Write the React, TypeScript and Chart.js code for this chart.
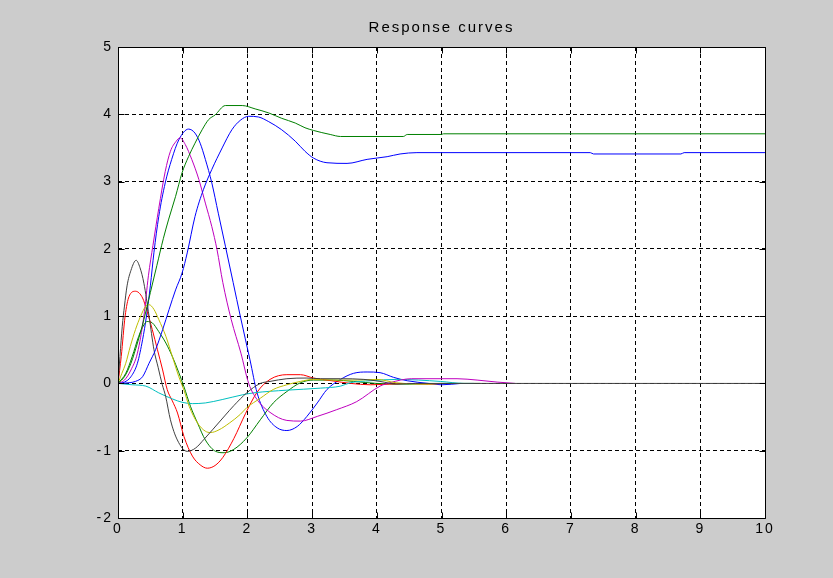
import { useEffect, useRef } from "react";
import { Chart, registerables } from "chart.js";

Chart.register(...registerables);

const titleText = "Response curves";
const xRange = [0, 10];
const yRange = [-2, 5];

// fast blue (peak ~3.78)
const blueFastT = [0, 0.1, 0.2, 0.3, 0.38, 0.44, 0.5, 0.556, 0.63, 0.73, 0.83, 0.94, 1.09, 1.19, 1.27, 1.35, 1.45, 1.55, 1.66, 1.78, 1.89, 2.04, 2.15, 2.3, 2.46, 2.61, 2.77, 2.92, 3.08, 3.23, 3.44, 3.64, 3.85, 4.05, 4.26, 4.47, 4.8, 5.0, 5.3];
const blueFastY = [0, 0.02, 0.1, 0.3, 0.65, 1.0, 1.45, 1.95, 2.48, 2.98, 3.33, 3.62, 3.78, 3.72, 3.57, 3.33, 2.98, 2.53, 2.04, 1.5, 1.0, 0.35, -0.14, -0.49, -0.66, -0.7, -0.64, -0.49, -0.29, -0.09, 0.06, 0.15, 0.17, 0.16, 0.09, 0.04, 0.0, -0.02, 0];

// slow blue (settles ~3.42)
const blueSlowT = [0, 0.17, 0.27, 0.38, 0.48, 0.58, 0.69, 0.79, 0.89, 0.99, 1.07, 1.19, 1.32, 1.45, 1.61, 1.76, 1.89, 2.02, 2.17, 2.33, 2.53, 2.74, 2.89, 3.02, 3.23, 3.54, 3.85, 4.16, 4.36, 4.62, 7.3, 7.35, 8.7, 8.75, 10];
const blueSlowY = [0, 0.01, 0.03, 0.1, 0.3, 0.5, 0.8, 1.1, 1.39, 1.64, 1.94, 2.48, 2.88, 3.18, 3.5, 3.77, 3.91, 3.97, 3.96, 3.89, 3.77, 3.6, 3.45, 3.35, 3.28, 3.27, 3.33, 3.37, 3.41, 3.43, 3.43, 3.41, 3.41, 3.43, 3.43];

// upper green (settles ~3.7)
const greenHighT = [0, 0.1, 0.2, 0.3, 0.4, 0.5, 0.6, 0.7, 0.78, 0.89, 0.99, 1.09, 1.19, 1.3, 1.4, 1.5, 1.66, 1.92, 2.12, 2.33, 2.53, 2.74, 2.89, 3.02, 3.28, 3.44, 4.41, 4.47, 5.0, 5.03, 10];
const greenHighY = [0, 0.1, 0.3, 0.6, 0.95, 1.35, 1.75, 2.15, 2.43, 2.78, 3.13, 3.37, 3.57, 3.77, 3.92, 3.99, 4.13, 4.13, 4.08, 4.02, 3.94, 3.87, 3.8, 3.76, 3.7, 3.67, 3.67, 3.7, 3.7, 3.71, 3.71];

// lower green (peak ~0.92)
const greenLowT = [0, 0.12, 0.22, 0.32, 0.4, 0.45, 0.53, 0.63, 0.74, 0.84, 0.94, 1.02, 1.12, 1.23, 1.35, 1.51, 1.64, 1.79, 1.99, 2.2, 2.4, 2.61, 2.82, 3.02, 3.33, 3.64, 4.0, 4.5, 5.0, 5.6];
const greenLowY = [0, 0.15, 0.4, 0.7, 0.87, 0.92, 0.9, 0.77, 0.6, 0.4, 0.16, -0.05, -0.34, -0.59, -0.84, -1.01, -1.03, -0.98, -0.81, -0.54, -0.29, -0.12, 0.01, 0.05, 0.05, 0.03, 0.0, -0.01, 0.0, 0.0];

const redT = [0, 0.05, 0.11, 0.17, 0.27, 0.38, 0.45, 0.53, 0.61, 0.69, 0.76, 0.84, 0.92, 1.02, 1.15, 1.27, 1.38, 1.5, 1.62, 1.79, 1.97, 2.15, 2.35, 2.61, 2.82, 3.02, 3.3, 3.6, 3.9, 4.2, 4.5, 4.8, 5.0];
const redY = [0, 0.4, 1.0, 1.29, 1.37, 1.27, 1.07, 0.8, 0.5, 0.2, -0.09, -0.26, -0.44, -0.79, -1.08, -1.21, -1.26, -1.22, -1.1, -0.82, -0.45, -0.13, 0.06, 0.13, 0.13, 0.08, 0.04, 0.0, -0.02, -0.01, 0.0, -0.01, 0];

const cyanT = [0, 0.22, 0.43, 0.63, 0.84, 0.99, 1.15, 1.35, 1.61, 1.92, 2.1, 2.61, 3.13, 3.44, 3.59, 3.9, 4.31, 4.98, 5.35, 5.5];
const cyanY = [0, -0.02, -0.04, -0.14, -0.23, -0.28, -0.3, -0.29, -0.24, -0.17, -0.14, -0.1, -0.07, -0.04, 0.01, 0.04, 0.06, 0.03, 0.0, 0.0];

const magentaT = [0, 0.1, 0.2, 0.3, 0.4, 0.47, 0.54, 0.63, 0.73, 0.81, 0.9, 0.96, 1.04, 1.14, 1.25, 1.35, 1.45, 1.53, 1.62, 1.75, 1.9, 2.02, 2.15, 2.35, 2.61, 2.82, 3.08, 3.38, 3.69, 4.05, 4.2, 4.54, 5.24, 5.55, 5.86, 6.14];
const magentaY = [0, 0.05, 0.2, 0.45, 1.0, 1.6, 2.05, 2.6, 3.15, 3.45, 3.6, 3.65, 3.55, 3.33, 3.03, 2.68, 2.33, 1.99, 1.5, 0.95, 0.45, 0.0, -0.24, -0.43, -0.55, -0.56, -0.49, -0.39, -0.27, -0.04, 0.01, 0.07, 0.07, 0.05, 0.02, 0.0];

const yellowT = [0, 0.06, 0.12, 0.19, 0.27, 0.35, 0.43, 0.48, 0.556, 0.63, 0.74, 0.84, 0.94, 1.02, 1.1, 1.23, 1.35, 1.43, 1.56, 1.72, 1.89, 1.99, 2.2, 2.4, 2.61, 2.82, 3.02, 3.33, 3.7, 4.0, 4.3, 4.8, 5.0];
const yellowY = [0, 0.15, 0.3, 0.55, 0.8, 1.0, 1.15, 1.17, 1.1, 0.95, 0.7, 0.4, 0.1, -0.1, -0.34, -0.59, -0.71, -0.73, -0.69, -0.59, -0.46, -0.36, -0.22, -0.09, -0.02, 0.03, 0.06, 0.05, 0.05, 0.06, 0.01, -0.01, 0];

const greyT = [0, 0.03, 0.066, 0.1, 0.14, 0.2, 0.28, 0.34, 0.4, 0.48, 0.556, 0.62, 0.685, 0.736, 0.81, 0.917, 1.07, 1.2, 1.33, 1.46, 1.66, 1.79, 1.99, 2.2, 2.35, 2.61, 2.92, 3.13, 3.44, 3.8, 4.05, 4.31, 4.6, 10];
const greyY = [0, 0.4, 0.85, 1.15, 1.45, 1.68, 1.83, 1.72, 1.49, 1.0, 0.5, 0.24, -0.02, -0.19, -0.54, -0.84, -1.01, -0.96, -0.83, -0.69, -0.47, -0.33, -0.14, 0.0, 0.03, 0.07, 0.08, 0.07, 0.07, 0.06, 0.03, -0.01, 0, 0];

const FONT = '"Liberation Sans", Arial, sans-serif';

export default function App() {
  const ref = useRef<HTMLCanvasElement>(null);

  useEffect(() => {
    const canvas = ref.current;
    if (!canvas) return;

    const pts = (t: number[], y: number[]) => t.map((v, i) => ({ x: v, y: y[i] }));
    const mk = (label: string, t: number[], y: number[], color: string) => ({
      label,
      data: pts(t, y),
      borderColor: color,
      backgroundColor: color,
      borderWidth: 1,
      pointRadius: 0,
      showLine: true,
      fill: false,
      cubicInterpolationMode: "monotone" as const,
    });

    const plotBg = {
      id: "plotBg",
      beforeDraw(chart: any) {
        const { ctx, chartArea: a } = chart;
        ctx.save();
        ctx.fillStyle = "#ffffff";
        ctx.fillRect(a.left, a.top, a.right - a.left, a.bottom - a.top);
        ctx.restore();
        (ctx as any).letterSpacing = "2px";
      },
    };

    const frame = {
      id: "frame",
      afterDatasetsDraw(chart: any) {
        const { ctx, chartArea: a, scales } = chart;
        const tl = 6;
        ctx.save();
        ctx.strokeStyle = "#000";
        ctx.lineWidth = 1;
        ctx.setLineDash([]);
        const L = Math.round(a.left) + 0.5;
        const R = Math.round(a.right) + 0.5;
        const T = Math.round(a.top) + 0.5;
        const B = Math.round(a.bottom) + 0.5;
        ctx.beginPath();
        ctx.rect(L, T, R - L, B - T);
        scales.x.ticks.forEach((tk: any) => {
          const px = Math.round(scales.x.getPixelForValue(tk.value)) + 0.5;
          ctx.moveTo(px, B);
          ctx.lineTo(px, B - tl);
          ctx.moveTo(px, T);
          ctx.lineTo(px, T + tl);
        });
        scales.y.ticks.forEach((tk: any) => {
          const py = Math.round(scales.y.getPixelForValue(tk.value)) + 0.5;
          ctx.moveTo(L, py);
          ctx.lineTo(L + tl, py);
          ctx.moveTo(R, py);
          ctx.lineTo(R - tl, py);
        });
        ctx.stroke();
        ctx.restore();
      },
    };

    const datasets = [
      mk("g2", greenHighT, greenHighY, "#008000"),
      mk("b2", blueSlowT, blueSlowY, "#0000ff"),
      mk("k", greyT, greyY, "#404040"),
      mk("y", yellowT, yellowY, "#bfbf00"),
      mk("m", magentaT, magentaY, "#bf00bf"),
      mk("c", cyanT, cyanY, "#00bfbf"),
      mk("r", redT, redY, "#ff0000"),
      mk("g1", greenLowT, greenLowY, "#008000"),
      mk("b1", blueFastT, blueFastY, "#0000ff"),
    ];

    const tickFont = { family: FONT, size: 14, weight: "normal" as const };

    const chart = new Chart(canvas, {
      type: "scatter",
      data: { datasets },
      plugins: [plotBg, frame],
      options: {
        responsive: false,
        animation: false,
        events: [],
        layout: { padding: { left: 0, right: 68, top: 0, bottom: 0 } },
        plugins: {
          legend: { display: false },
          tooltip: { enabled: false },
          title: {
            display: true,
            text: titleText,
            fullSize: false,
            color: "#000",
            font: { family: FONT, size: 15, weight: "normal", lineHeight: 1.2 },
            padding: { top: 19, bottom: 10 },
          },
        },
        scales: {
          x: {
            type: "linear",
            min: xRange[0],
            max: xRange[1],
            ticks: { stepSize: 1, color: "#000", font: tickFont, padding: 3, maxRotation: 0, autoSkip: false },
            grid: { color: "#000", lineWidth: 1, drawTicks: false },
            border: { display: false, dash: [4, 3] },
            afterFit: (s: any) => {
              s.height = 60;
            },
          },
          y: {
            type: "linear",
            min: yRange[0],
            max: yRange[1],
            ticks: { stepSize: 1, color: "#000", font: tickFont, padding: 5, autoSkip: false },
            grid: { color: "#000", lineWidth: 1, drawTicks: false },
            border: { display: false, dash: [4, 3] },
            afterFit: (s: any) => {
              s.width = 118;
            },
          },
        },
      } as any,
    });

    return () => chart.destroy();
  }, []);

  return (
    <div style={{ position: "fixed", left: 0, top: 0, width: 833, height: 578, background: "#cccccc" }}>
      <canvas ref={ref} width={833} height={578} style={{ display: "block", width: 833, height: 578 }} />
    </div>
  );
}
